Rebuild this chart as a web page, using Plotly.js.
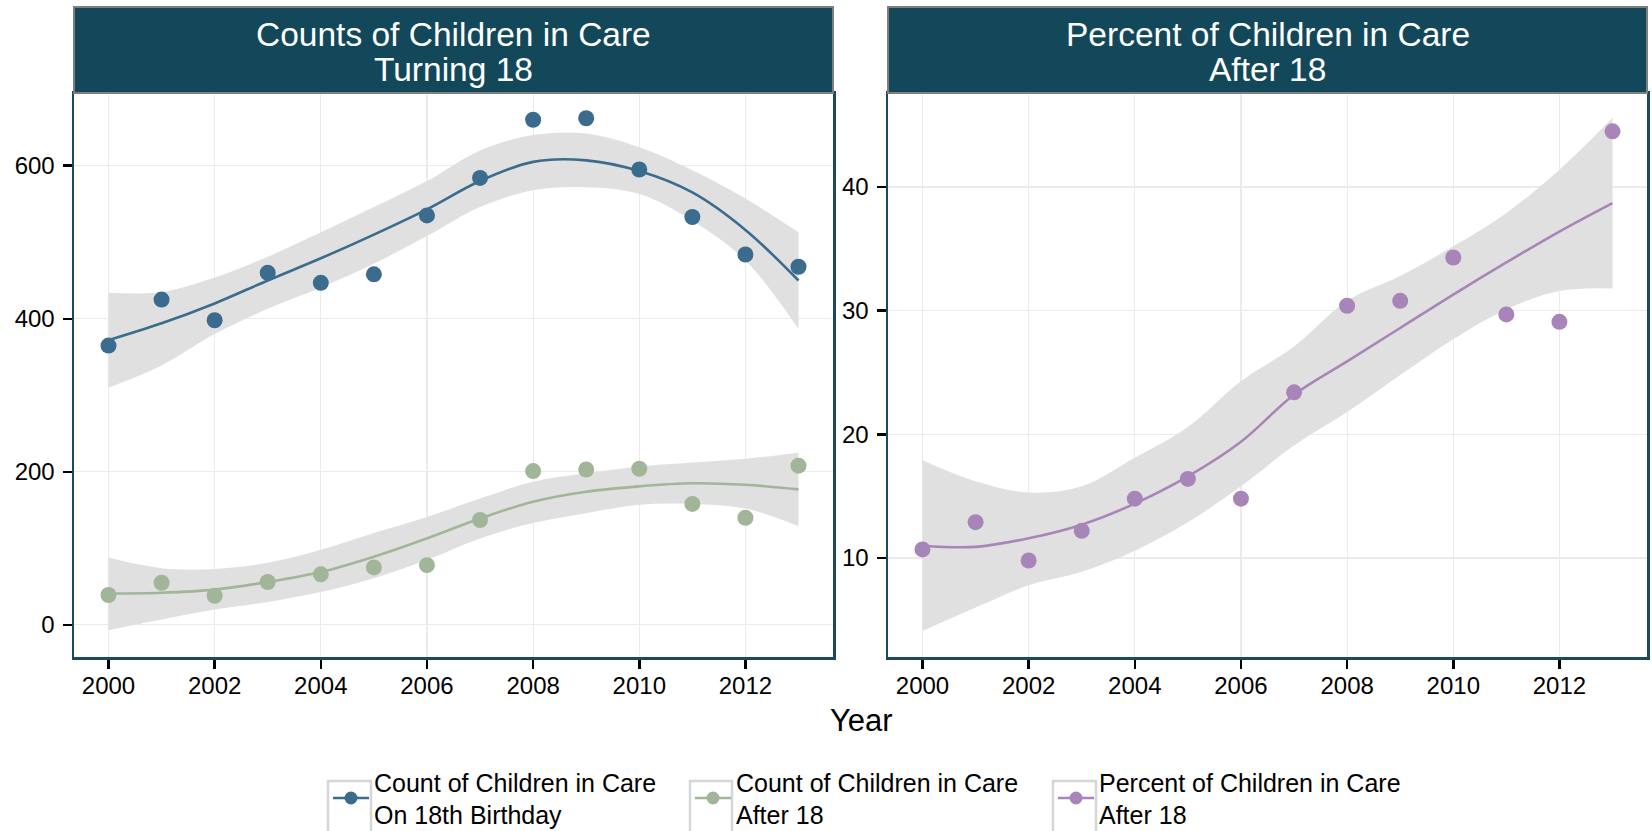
<!DOCTYPE html>
<html><head><meta charset="utf-8">
<script src="https://cdn.plot.ly/plotly-3.0.1.min.js"></script>
<style>html,body{margin:0;padding:0;background:#fff}#chart{width:1652px;height:831px}</style>
</head><body><div id="chart"></div>
<script>
// ---- data ----
const years = [2000,2001,2002,2003,2004,2005,2006,2007,2008,2009,2010,2011,2012,2013];

const birthdayCount = [365,425,398,460,447,458,535,584,660,662,595,533,484,468];
const birthdayFit   = [372,394,420,450,479,510,543,580,605,607,593,565,516,450];
const birthdayUpper = [434,435,454,481,513,546,580,620,640,642,624,594,557,513];
const birthdayLower = [310,339,380,413,441,472,508,546,568,572,563,528,476,387];

const after18Count = [39,55,38,56,66,75,78,137,201,203,204,158,140,208];
const after18Fit   = [41,42,46,56,69,89,113,139,161,174,181,185,183,177];
const after18Upper = [88,74,73,81,98,120,141,165,187,198,207,212,217,225];
const after18Lower = [-7,7,20,30,43,61,85,113,133,146,157,158,152,129];

const percentAfter18 = [10.7,12.9,9.8,12.2,14.8,16.4,14.8,23.4,30.4,30.8,34.3,29.7,29.1,44.5];
const percentFit     = [11.0,10.9,11.6,12.7,14.4,16.6,19.4,23.2,25.9,28.6,31.3,33.9,36.4,38.7];
const percentUpper   = [17.9,16.2,15.3,15.8,18.1,20.6,24.3,27.1,30.8,32.8,35.2,37.9,41.4,45.6];
const percentLower   = [4.1,6.0,7.8,8.9,10.6,12.9,15.8,19.1,21.8,24.8,27.7,30.1,31.6,31.8];

const seriesNames = [
  'Count of Children in Care<br>On 18th Birthday',
  'Count of Children in Care<br>After 18',
  'Percent of Children in Care<br>After 18'
];
const panelTitles = [
  ['Counts of Children in Care','Turning 18'],
  ['Percent of Children in Care','After 18']
];
const xTickVals = [2000,2002,2004,2006,2008,2010,2012];
const yTicksLeft = [0,200,400,600];
const yTicksRight = [10,20,30,40];

// ---- styling ----
const W = 1652, H = 831;
const FONT = 'Liberation Sans, Arial, Helvetica, sans-serif';
const colors = ['#3b6c8d','#a1b698','#a885b8'];
const ribbonFill = '#e0e0e0';
const stripFill = '#12485a';
const borderCol = '#1c4a5c';
const px = v => v / W;
const py = v => 1 - v / H;

const panelL = [74, 833], panelR = [888, 1647];
const plotTop = 93, plotBot = 657, stripTop = 7;

function band(lower, upper, xa, ya) {
  return [
    {x: years, y: lower, xaxis: xa, yaxis: ya, mode: 'lines', line: {width: 0, shape: 'spline', color: ribbonFill},
     showlegend: false, hoverinfo: 'skip'},
    {x: years, y: upper, xaxis: xa, yaxis: ya, mode: 'lines', line: {width: 0, shape: 'spline', color: ribbonFill},
     fill: 'tonexty', fillcolor: ribbonFill, showlegend: false, hoverinfo: 'skip'}
  ];
}
function fitLine(y, color, xa, ya) {
  return {x: years, y: y, xaxis: xa, yaxis: ya, mode: 'lines', line: {color: color, width: 2.6, shape: 'spline'},
          showlegend: false};
}
function pts(y, color, xa, ya) {
  return {x: years, y: y, xaxis: xa, yaxis: ya, mode: 'markers', marker: {color: color, size: 16},
          showlegend: false};
}
function legendEntry(i, legendId) {
  return {x: [null], y: [null], xaxis: 'x', yaxis: 'y', mode: 'lines+markers', name: seriesNames[i],
          line: {color: colors[i], width: 2.6}, marker: {color: colors[i], size: 13},
          legend: legendId, showlegend: true};
}

const data = [].concat(
  band(birthdayLower, birthdayUpper, 'x', 'y'),
  band(after18Lower, after18Upper, 'x', 'y'),
  band(percentLower, percentUpper, 'x2', 'y2'),
  [fitLine(birthdayFit, colors[0], 'x', 'y'),
   fitLine(after18Fit, colors[1], 'x', 'y'),
   fitLine(percentFit, colors[2], 'x2', 'y2'),
   pts(birthdayCount, colors[0], 'x', 'y'),
   pts(after18Count, colors[1], 'x', 'y'),
   pts(percentAfter18, colors[2], 'x2', 'y2'),
   legendEntry(0, 'legend'), legendEntry(1, 'legend2'), legendEntry(2, 'legend3')]
);

const axisCommon = {
  showline: true, linecolor: borderCol, linewidth: 2.5, mirror: true,
  showgrid: true, gridcolor: '#ebebeb', gridwidth: 1.2, zeroline: false,
  ticks: 'outside', ticklen: 9, tickwidth: 2.5, tickcolor: '#000',
  tickfont: {family: FONT, size: 24, color: '#000'}, fixedrange: true, automargin: false
};
const xRange = [1999.35, 2013.65];

function legendBox(xLeft) {
  return {x: px(xLeft), xanchor: 'left', y: py(798), yanchor: 'middle', orientation: 'v',
          bgcolor: 'rgba(0,0,0,0)', borderwidth: 0, itemwidth: 36,
          font: {family: FONT, size: 25, color: '#000'}};
}
function keyShape(x0, x1) {
  return {type: 'rect', xref: 'paper', yref: 'paper', x0: px(x0), x1: px(x1), y0: py(781), y1: py(840),
          line: {color: '#d6d6d6', width: 2.5}, fillcolor: '#ffffff', layer: 'below'};
}
function stripShape(p) {
  return {type: 'rect', xref: 'paper', yref: 'paper', x0: px(p[0]), x1: px(p[1]), y0: py(plotTop), y1: py(stripTop),
          line: {color: '#7f7f7f', width: 2}, fillcolor: stripFill, layer: 'above'};
}
function stripText(p, txt, yc) {
  return {xref: 'paper', yref: 'paper', x: px((p[0] + p[1]) / 2), y: py(yc), xanchor: 'center', yanchor: 'middle',
          text: txt, showarrow: false, font: {family: FONT, size: 33.5, color: '#ffffff'}};
}

const layout = {
  width: W, height: H, margin: {l: 0, r: 0, t: 0, b: 0, autoexpand: false},
  paper_bgcolor: '#ffffff', plot_bgcolor: '#ffffff',
  font: {family: FONT},
  xaxis: Object.assign({}, axisCommon, {domain: [px(panelL[0]), px(panelL[1])], range: xRange, tickvals: xTickVals, anchor: 'y', ticklabelstandoff: -3}),
  yaxis: Object.assign({}, axisCommon, {domain: [py(plotBot), py(plotTop)], range: [-42, 695], tickvals: yTicksLeft, anchor: 'x', ticklabelstandoff: 3}),
  xaxis2: Object.assign({}, axisCommon, {domain: [px(panelR[0]), px(panelR[1])], range: xRange, tickvals: xTickVals, anchor: 'y2', ticklabelstandoff: -3}),
  yaxis2: Object.assign({}, axisCommon, {domain: [py(plotBot), py(plotTop)], range: [2.0, 47.6], tickvals: yTicksRight, anchor: 'x2', ticklabelstandoff: 3}),
  legend: legendBox(328), legend2: legendBox(690), legend3: legendBox(1053),
  shapes: [stripShape(panelL), stripShape(panelR), keyShape(328, 371), keyShape(690, 732), keyShape(1053, 1096)],
  annotations: [
    stripText(panelL, panelTitles[0][0], 35), stripText(panelL, panelTitles[0][1], 70),
    stripText(panelR, panelTitles[1][0], 35), stripText(panelR, panelTitles[1][1], 70),
    {xref: 'paper', yref: 'paper', x: px(861), y: py(720), xanchor: 'center', yanchor: 'middle', text: 'Year',
     showarrow: false, font: {family: FONT, size: 31, color: '#000'}}
  ]
};

Plotly.newPlot('chart', data, layout, {displayModeBar: false, staticPlot: true});
</script></body></html>
